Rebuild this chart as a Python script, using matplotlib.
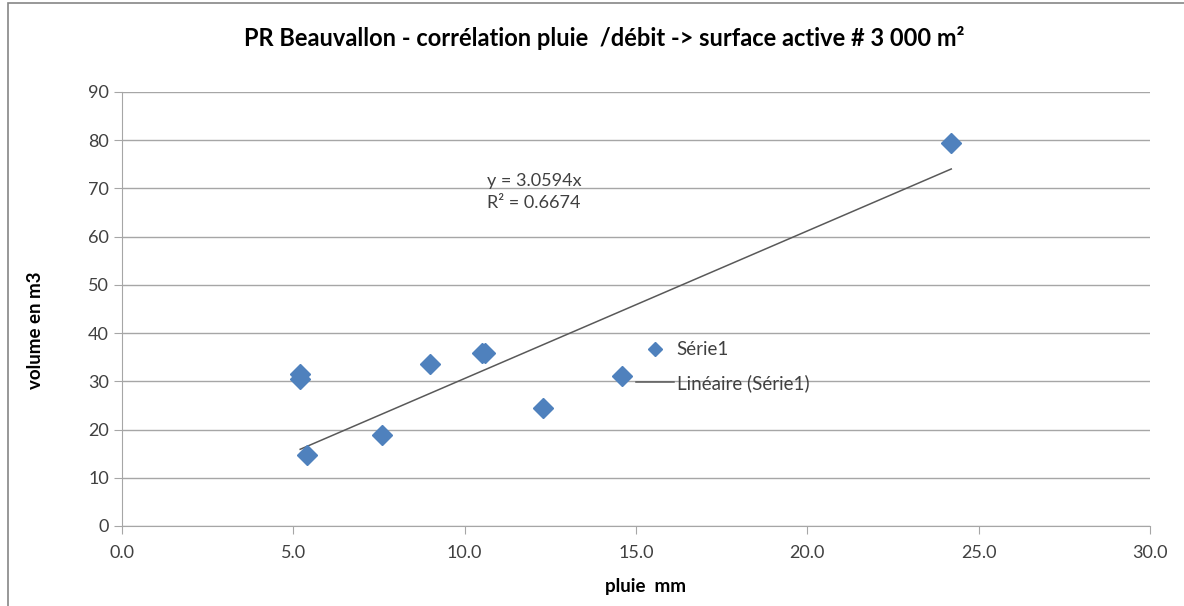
import matplotlib.pyplot as plt
from matplotlib.patches import Rectangle
import numpy as np

# Données
pluie_mm = [5.2, 5.2, 5.4, 7.6, 9.0, 10.5, 10.6, 12.3, 14.6, 24.2]
volume_m3 = [31.5, 30.5, 14.8, 18.8, 33.5, 35.8, 35.8, 24.4, 31.2, 79.5]
pente = 3.0594
r2 = 0.6674

x_ticks = [0, 5, 10, 15, 20, 25, 30]
y_ticks = [0, 10, 20, 30, 40, 50, 60, 70, 80, 90]

plt.rcParams['font.family'] = ['Lato', 'DejaVu Sans']

fig = plt.figure(figsize=(11.84, 6.06), dpi=100)
ax = fig.add_axes([122 / 1184, 80 / 606, 1028 / 1184, 434 / 606])

# Cadre extérieur du graphique
fig.patches.append(Rectangle((8 / 1184, -0.01), 1.1, 1.005, transform=fig.transFigure,
                             fill=False, edgecolor='#868686', linewidth=1.2))

grid_col = '#A6A6A6'
ax.set_xlim(0, 30)
ax.set_ylim(0, 90)
ax.set_xticks(x_ticks)
ax.set_yticks(y_ticks)
ax.set_xticklabels([f'{v:.1f}' for v in x_ticks])
ax.yaxis.grid(True, color=grid_col, linewidth=1)
ax.set_axisbelow(True)
for s in ['top', 'right']:
    ax.spines[s].set_visible(False)
for s in ['left', 'bottom']:
    ax.spines[s].set_color(grid_col)
ax.tick_params(axis='both', colors=grid_col, labelcolor='#404040', labelsize=13,
               length=6, direction='out')
ax.tick_params(axis='x', pad=8)

# Points
ax.plot(pluie_mm, volume_m3, linestyle='none', marker='D', ms=10,
        color='#4F81BD', markeredgecolor='#4F81BD', label='Série1', zorder=3)

# Courbe de tendance linéaire (passant par 0)
xt = np.array([min(pluie_mm), max(pluie_mm)])
ax.plot(xt, pente * xt, color='#595959', linewidth=1.1, label='Linéaire (Série1)', zorder=2)

ax.text(10.65, 69.3, f'y = {pente}x\nR² = {r2}', fontsize=13, color='#404040',
        va='center', ha='left', linespacing=1.45)

ax.set_xlabel('pluie  mm', fontsize=13.5, fontweight='bold', color='#000000')
ax.xaxis.set_label_coords(0.509, -0.12)
ax.set_ylabel('volume en m3', fontsize=13.5, fontweight='bold', color='#000000')
ax.yaxis.set_label_coords(-0.076, 0.45)
fig.text(0.51, 1 - 38 / 606, 'PR Beauvallon - corrélation pluie  /débit -> surface active # 3 000 m²',
         fontsize=17, fontweight='bold', ha='center', va='center')

ax.legend(loc='upper left', bbox_to_anchor=(0.484, 0.465), frameon=False, fontsize=13.5,
          handlelength=2.0, handletextpad=0.15, markerscale=0.75, labelcolor='#404040',
          labelspacing=0.85)

fig.savefig('out.png', dpi=100)
